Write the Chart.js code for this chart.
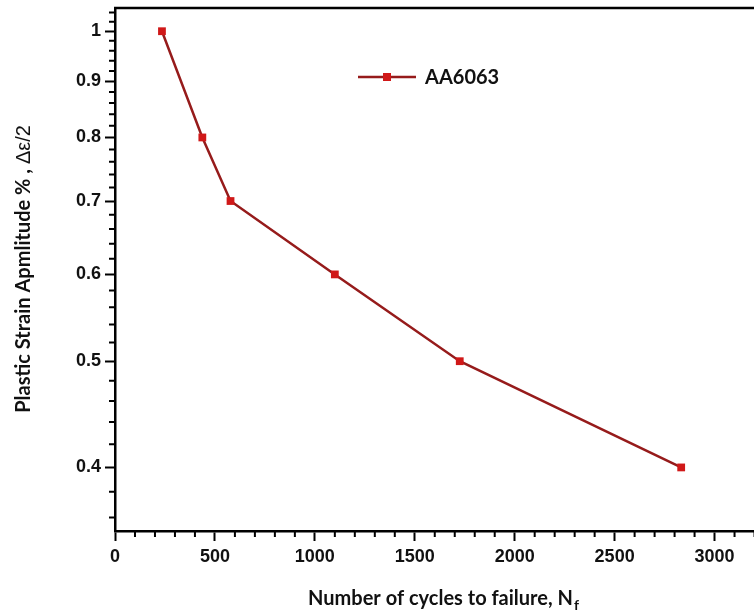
<!DOCTYPE html>
<html>
<head>
<meta charset="utf-8">
<script src="https://cdn.jsdelivr.net/npm/chart.js@4.4.1/dist/chart.umd.min.js"></script>
<style>
  html, body { margin: 0; padding: 0; background: #fff; overflow: hidden; }
  body { width: 754px; height: 615px; }
  #wrap { width: 800px; height: 615px; }
</style>
</head>
<body>
<div id="wrap"><canvas id="fatigueChart"></canvas></div>
<script>
// data
const cycles = [235, 437, 578, 1100, 1725, 2833];
const strainAmp = [1.0, 0.8, 0.7, 0.6, 0.5, 0.4];
const seriesName = 'AA6063';
const xMajorTicks = [0, 500, 1000, 1500, 2000, 2500, 3000];
const yMajorTicks = [0.4, 0.5, 0.6, 0.7, 0.8, 0.9, 1];

const LINE = '#961b1b';
const MARK = '#d01818';
const TICK_FONT = { family: 'Liberation Sans, Arial', size: 18, weight: 'bold' };

const isMajor = (v, list) => list.some(m => Math.abs(m - v) < 1e-6);

// minor ticks, legend, titles and top border
const extras = {
    id: 'extras',
    afterDraw(chart) {
        const { ctx, chartArea: a, scales } = chart;
        const xs = scales.x, ys = scales.y;
        ctx.save();
        ctx.strokeStyle = '#000';
        ctx.lineWidth = 2;
        ctx.beginPath();
        xs.ticks.forEach(t => {
            if (isMajor(t.value, xMajorTicks)) return;
            const px = xs.getPixelForValue(t.value);
            ctx.moveTo(px, a.bottom); ctx.lineTo(px, a.bottom + 6);
        });
        ys.ticks.forEach(t => {
            if (isMajor(t.value, yMajorTicks)) return;
            const py = ys.getPixelForValue(t.value);
            ctx.moveTo(a.left, py); ctx.lineTo(a.left - 6, py);
        });
        ctx.stroke();

        // top frame line
        ctx.lineWidth = 2.5;
        ctx.beginPath();
        ctx.moveTo(a.left - 1, a.top); ctx.lineTo(a.right, a.top);
        ctx.stroke();

        // legend
        const ly = a.top + 69, lx = a.left + 243;
        ctx.strokeStyle = LINE;
        ctx.lineWidth = 2.5;
        ctx.beginPath();
        ctx.moveTo(lx, ly); ctx.lineTo(lx + 58, ly);
        ctx.stroke();
        ctx.fillStyle = MARK;
        ctx.fillRect(lx + 29 - 4, ly - 4, 8, 8);
        ctx.fillStyle = '#111';
        ctx.font = 'bold 20px Lato';
        ctx.textBaseline = 'middle';
        ctx.textAlign = 'left';
        ctx.fillText(seriesName, lx + 67, ly + 1);

        // x title with subscript
        const xMain = 'Number of cycles to failure, N';
        ctx.font = 'bold 20px Lato';
        const wMain = ctx.measureText(xMain).width;
        ctx.font = 'bold 14px Lato';
        const wSub = ctx.measureText('f').width;
        let tx = 443 - (wMain + wSub) / 2;
        ctx.textBaseline = 'alphabetic';
        ctx.font = 'bold 20px Lato';
        ctx.fillText(xMain, tx, 605);
        ctx.font = 'bold 14px Lato';
        ctx.fillText('f', tx + wMain + 1, 610);

        // y title, bold part + regular symbol part
        const yBold = 'Plastic Strain Apmlitude % , ';
        const ySym = '\u0394\u03b5/2';
        ctx.translate(24, 269);
        ctx.rotate(-Math.PI / 2);
        ctx.font = 'bold 20px Lato';
        const wb = ctx.measureText(yBold).width;
        ctx.font = '20px Liberation Sans';
        const ws = ctx.measureText(ySym).width;
        const start = -(wb + ws) / 2;
        ctx.textBaseline = 'middle';
        ctx.font = 'bold 20px Lato';
        ctx.fillText(yBold, start, 0);
        ctx.font = '20px Liberation Sans';
        ctx.fillText(ySym, start + wb, 0);
        ctx.restore();
    }
};

const ctx = document.getElementById('fatigueChart').getContext('2d');
new Chart(ctx, {
    type: 'line',
    data: {
        datasets: [{
            label: seriesName,
            data: cycles.map((c, i) => ({ x: c, y: strainAmp[i] })),
            borderColor: LINE,
            borderWidth: 2.5,
            backgroundColor: MARK,
            pointBackgroundColor: MARK,
            pointBorderColor: MARK,
            pointBorderWidth: 0,
            pointStyle: 'rect',
            pointRadius: 5.5,
            tension: 0,
            clip: false
        }]
    },
    options: {
        responsive: true,
        maintainAspectRatio: false,
        animation: false,
        layout: { padding: { top: 8, right: 5, left: 0, bottom: 0 } },
        plugins: {
            legend: { display: false },
            tooltip: { enabled: false }
        },
        scales: {
            x: {
                type: 'linear',
                min: 0,
                max: 3400,
                afterFit(s) { s.height = 84; s.paddingLeft = 0; s.paddingRight = 0; },
                ticks: {
                    stepSize: 100,
                    autoSkip: false,
                    maxRotation: 0,
                    padding: 5,
                    color: '#111',
                    font: TICK_FONT,
                    callback: v => isMajor(v, xMajorTicks) ? String(v) : ''
                },
                grid: {
                    drawOnChartArea: false,
                    tickLength: 10,
                    tickWidth: 2,
                    tickColor: c => (c.tick && isMajor(c.tick.value, xMajorTicks)) ? '#000' : 'rgba(0,0,0,0)'
                },
                border: { color: '#000', width: 2.5 }
            },
            y: {
                type: 'logarithmic',
                min: 0.35,
                max: 1.05,
                afterFit(s) { s.width = 115; s.paddingTop = 0; s.paddingBottom = 0; },
                afterBuildTicks(s) {
                    const t = [];
                    for (let k = 18; k <= 52; k++) t.push({ value: Math.round(k * 2) / 100 });
                    s.ticks = t;
                },
                ticks: {
                    autoSkip: false,
                    padding: 4,
                    color: '#111',
                    font: TICK_FONT,
                    callback: v => isMajor(v, yMajorTicks) ? String(Math.round(v * 10) / 10) : ''
                },
                grid: {
                    drawOnChartArea: false,
                    tickLength: 10,
                    tickWidth: 2,
                    tickColor: c => (c.tick && isMajor(c.tick.value, yMajorTicks)) ? '#000' : 'rgba(0,0,0,0)'
                },
                border: { color: '#000', width: 2.5 }
            }
        }
    },
    plugins: [extras]
});
</script>
</body>
</html>
